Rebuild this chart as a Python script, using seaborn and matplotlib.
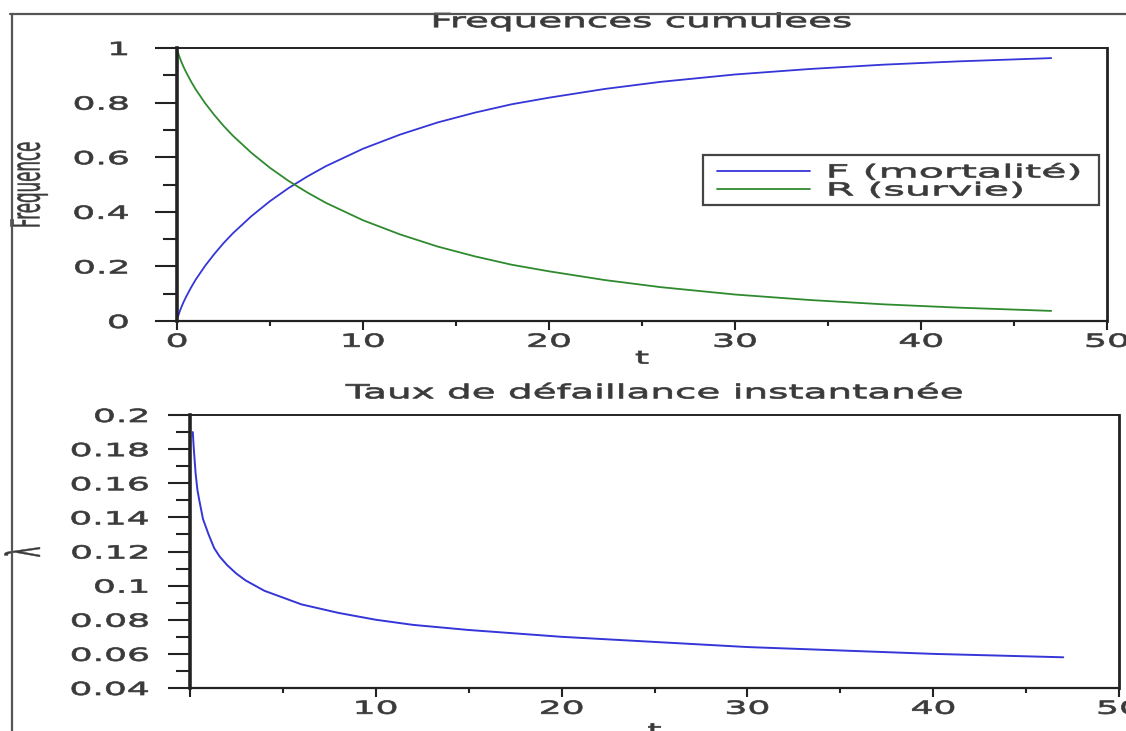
import matplotlib
matplotlib.use("Agg")
import matplotlib.pyplot as plt
import seaborn as sns
from matplotlib.patheffects import AbstractPathEffect
from matplotlib.transforms import Affine2D
from matplotlib.lines import Line2D
from matplotlib.patches import Rectangle

# valeurs
t_cum = [0.05, 0.1, 0.2, 0.35, 0.5, 0.75, 1, 1.5, 2, 2.5, 3, 4, 5, 6, 7, 8, 10,
         12, 14, 16, 18, 20, 23, 26, 30, 34, 38, 42, 47]
F_mort = [0.015, 0.026, 0.045, 0.069, 0.090, 0.122, 0.151, 0.201, 0.245, 0.285,
          0.321, 0.384, 0.439, 0.487, 0.529, 0.567, 0.631, 0.683, 0.727, 0.763,
          0.794, 0.818, 0.850, 0.876, 0.903, 0.923, 0.939, 0.951, 0.963]
R_surv = [0.985, 0.974, 0.955, 0.931, 0.910, 0.878, 0.849, 0.799, 0.755, 0.715,
          0.679, 0.616, 0.561, 0.513, 0.471, 0.433, 0.369, 0.317, 0.273, 0.237,
          0.206, 0.182, 0.150, 0.124, 0.097, 0.077, 0.061, 0.049, 0.037]

t_taux = [0.15, 0.2, 0.3, 0.4, 0.5, 0.7, 1, 1.3, 1.6, 2, 2.5, 3, 4, 5, 6, 8,
          10, 12, 15, 20, 25, 30, 35, 40, 47]
lam = [0.190, 0.181, 0.166, 0.156, 0.150, 0.139, 0.130, 0.122, 0.117, 0.112,
       0.107, 0.103, 0.097, 0.093, 0.089, 0.084, 0.080, 0.077, 0.074, 0.070,
       0.067, 0.064, 0.062, 0.060, 0.058]

x_ticks = [0, 10, 20, 30, 40, 50]
y_ticks_top = [0, 0.2, 0.4, 0.6, 0.8, 1]
y_labels_top = ["0", "0.2", "0.4", "0.6", "0.8", "1"]
y_ticks_bot = [0.04, 0.06, 0.08, 0.1, 0.12, 0.14, 0.16, 0.18, 0.2]
y_labels_bot = ["0.04", "0.06", "0.08", "0.1", "0.12", "0.14", "0.16", "0.18", "0.2"]


# le texte de l'original est etire horizontalement (et un peu gras)
class Stretch(AbstractPathEffect):
    def __init__(self, s=2.0, anchor="center", axis="x", lw=0.5):
        super().__init__()
        self.s, self.anchor, self.axis, self.lw = s, anchor, axis, lw

    def draw_path(self, renderer, gc, tpath, affine, rgbFace=None):
        ext = tpath.get_extents()
        if self.axis == "x":
            x0 = {"left": ext.x0, "right": ext.x1}.get(self.anchor, (ext.x0 + ext.x1) / 2)
            pre = Affine2D().translate(-x0, 0).scale(self.s, 1).translate(x0, 0)
        else:
            y0 = (ext.y0 + ext.y1) / 2
            pre = Affine2D().translate(0, -y0).scale(1, self.s).translate(0, y0)
        gc0 = renderer.new_gc()
        gc0.copy_properties(gc)
        if self.lw and rgbFace is not None:
            gc0.set_linewidth(self.lw)
            gc0.set_foreground(rgbFace)
        renderer.draw_path(gc0, tpath, pre + affine, rgbFace)
        gc0.restore()


sns.set_style("ticks")
plt.rcParams["font.family"] = ["DejaVu Sans"]
W, H = 1126, 731
fig = plt.figure(figsize=(W / 100, H / 100), dpi=100)

ax1 = fig.add_axes([177 / W, 1 - 321 / H, 930 / W, 273 / H])
ax2 = fig.add_axes([190 / W, 1 - 688 / H, 929 / W, 273 / H])

blue = "#3535d8"
green = "#2f8a2f"
txt = "#3a3a3a"

sns.lineplot(x=t_cum, y=F_mort, ax=ax1, color=blue, lw=1.3, sort=False, estimator=None)
sns.lineplot(x=t_cum, y=R_surv, ax=ax1, color=green, lw=1.3, sort=False, estimator=None)
sns.lineplot(x=t_taux, y=lam, ax=ax2, color=blue, lw=1.4, sort=False, estimator=None)

ax1.set_xlim(0, 50)
ax1.set_ylim(0, 1)
ax2.set_xlim(0, 50)
ax2.set_ylim(0.04, 0.2)

ax1.set_xticks(x_ticks)
ax1.set_xticklabels([str(v) for v in x_ticks])
ax1.set_xticks([5, 15, 25, 35, 45], minor=True)
ax1.set_yticks(y_ticks_top)
ax1.set_yticklabels(y_labels_top)
ax1.set_yticks([0.1, 0.3, 0.5, 0.7, 0.9], minor=True)

ax2.set_xticks(x_ticks)
ax2.set_xticklabels([""] + [str(v) for v in x_ticks[1:]])
ax2.set_xticks([5, 15, 25, 35, 45], minor=True)
ax2.set_yticks(y_ticks_bot)
ax2.set_yticklabels(y_labels_bot)
ax2.set_yticks([0.05, 0.07, 0.09, 0.11, 0.13, 0.15, 0.17, 0.19], minor=True)

for ax, ypad in [(ax1, 19), (ax2, 14)]:
    ax.tick_params(axis="y", which="major", direction="out", length=16, width=1.5,
                   pad=ypad, labelsize=13, labelcolor=txt, color="#222")
    ax.tick_params(axis="y", which="minor", direction="out", length=10, width=1.5, color="#222")
    ax.tick_params(axis="x", which="major", direction="out", length=6.5, width=1.5,
                   pad=2, labelsize=13, labelcolor=txt, color="#222")
    ax.tick_params(axis="x", which="minor", direction="out", length=3.5, width=1.5, color="#222")
    for side, w in [("left", 2.6), ("bottom", 1.6), ("top", 1.4), ("right", 2.0)]:
        ax.spines[side].set_linewidth(w)
        ax.spines[side].set_color("#222")
    for lab in ax.get_xticklabels():
        lab.set_path_effects([Stretch(2.0, "center")])
    for lab in ax.get_yticklabels():
        lab.set_path_effects([Stretch(2.0, "right")])

t1 = ax1.set_title("Frequences cumulees", fontsize=14, color=txt, pad=15)
t2 = ax2.set_title("Taux de défaillance instantanée", fontsize=14, color=txt, pad=12)
for t in (t1, t2):
    t.set_path_effects([Stretch(2.0, "center")])

xl1 = ax1.set_xlabel("t", fontsize=13, color=txt)
ax1.xaxis.set_label_coords(0.5, -0.105)
xl2 = ax2.set_xlabel("t", fontsize=13, color=txt)
ax2.xaxis.set_label_coords(0.5, -0.125)
yl1 = ax1.set_ylabel("Frequence", fontsize=12, color=txt)
ax1.yaxis.set_label_coords(-0.150, 0.498)
yl2 = ax2.set_ylabel("λ", fontsize=13, color=txt)
ax2.yaxis.set_label_coords(-0.169, 0.498)
for t in (xl1, xl2):
    t.set_path_effects([Stretch(2.0, "center")])
yl1.set_path_effects([Stretch(2.4, axis="y", lw=0.3)])
yl2.set_path_effects([Stretch(2.6, axis="y", lw=0.3)])

# legende
leg = ax1.legend(handles=[Line2D([], [], color=blue, lw=1.3), Line2D([], [], color=green, lw=1.3)],
                 labels=["F (mortalité)", "R (survie)"], loc="upper left",
                 bbox_to_anchor=(0.5806, 0.577), borderaxespad=0, borderpad=0,
                 frameon=False, fontsize=13, handlelength=5.15, handletextpad=1.0,
                 labelspacing=0)
for lt in leg.get_texts():
    lt.set_color(txt)
    lt.set_path_effects([Stretch(2.28, "left")])
ax1.add_patch(Rectangle((0.5656, 0.4249), 0.4258, 0.1832, transform=ax1.transAxes,
                        fill=False, edgecolor="#444", lw=1.6, zorder=5, clip_on=False))

# cadre de la figure
fig.add_artist(Line2D([10 / W, 1], [1 - 14 / H, 1 - 14 / H], transform=fig.transFigure,
                      color="#555", lw=1.6))
fig.add_artist(Line2D([12 / W, 12 / W], [0, 1 - 14 / H], transform=fig.transFigure,
                      color="#555", lw=1.6))

fig.savefig("out.png", dpi=100)
